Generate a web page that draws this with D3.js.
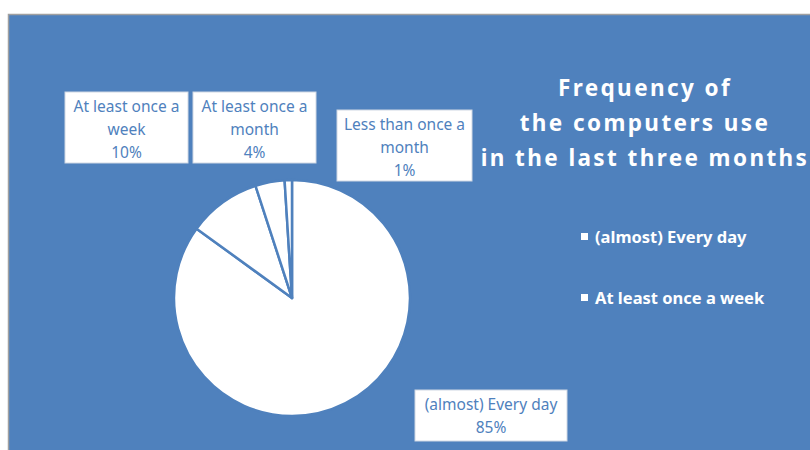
<!DOCTYPE html>
<html lang="en">
<head>
    <meta charset="UTF-8">
    <title>Frequency of the computers use</title>
    <script src="https://d3js.org/d3.v7.min.js"></script>
    <style>
        body { margin: 0; background: #fff; }
        svg { display: block; }
        text { font-family: "Noto Sans", "Open Sans", sans-serif; }
    </style>
</head>
<body>
    <div id="chart"></div>
    <script>
        const width = 810;
        const height = 450;

        // data
        const categories = ["(almost) Every day", "At least once a week", "At least once a month", "Less than once a month"];
        const values = [85, 10, 4, 1];
        const labelLines = [
            ["(almost) Every day"],
            ["At least once a", "week"],
            ["At least once a", "month"],
            ["Less than once a", "month"]
        ];
        const legendItems = ["(almost) Every day", "At least once a week"];
        const titleLines = ["Frequency of", "the computers use", "in the last three months"];

        const blue = "#4f81bd";

        const svg = d3.select("#chart").append("svg")
            .attr("width", width)
            .attr("height", height);

        // chart area
        svg.append("rect")
            .attr("x", 8.5)
            .attr("y", 14.5)
            .attr("width", width)
            .attr("height", height)
            .attr("fill", blue)
            .attr("stroke", "#a0a0a0")
            .attr("stroke-width", 1.5);

        const cx = 292, cy = 298, radius = 118;

        const pie = d3.pie().sort(null).value(d => d);
        const arc = d3.arc().innerRadius(0).outerRadius(radius);
        const arcs = pie(values);

        const g = svg.append("g").attr("transform", `translate(${cx},${cy})`);
        g.selectAll("path")
            .data(arcs)
            .enter().append("path")
            .attr("d", arc)
            .attr("fill", "#fff")
            .attr("stroke", blue)
            .attr("stroke-width", 2.5)
            .attr("stroke-linejoin", "round");

        // data label boxes (x, y, w, h)
        const boxes = [
            [415, 390, 152, 51],
            [65, 92, 123, 71],
            [193, 92, 123, 71],
            [337, 110, 135, 71]
        ];

        const labels = svg.append("g").selectAll("g")
            .data(arcs)
            .enter().append("g")
            .attr("transform", (d, i) => `translate(${boxes[i][0]},${boxes[i][1]})`);

        labels.append("rect")
            .attr("width", (d, i) => boxes[i][2])
            .attr("height", (d, i) => boxes[i][3])
            .attr("fill", "#fff")
            .attr("stroke", "#d0d8e4")
            .attr("stroke-width", 1);

        labels.each(function(d, i) {
            const lines = labelLines[i].concat([values[i] + "%"]);
            const t = d3.select(this).append("text")
                .attr("text-anchor", "middle")
                .attr("fill", blue)
                .attr("font-size", 15.5);
            lines.forEach((s, k) => {
                t.append("tspan")
                    .attr("x", boxes[i][2] / 2)
                    .attr("y", 19.5 + k * 23)
                    .text(s);
            });
        });

        // title
        svg.append("text")
            .attr("text-anchor", "middle")
            .attr("fill", "#fff")
            .attr("font-weight", "bold")
            .attr("font-size", 22.5)
            .attr("letter-spacing", 2.4)
            .selectAll("tspan")
            .data(titleLines)
            .enter().append("tspan")
            .attr("x", 645)
            .attr("y", (d, i) => 96 + i * 35)
            .text(d => d);

        // legend
        const legend = svg.append("g").selectAll("g")
            .data(legendItems)
            .enter().append("g")
            .attr("transform", (d, i) => `translate(581,${237 + i * 61})`);

        legend.append("rect")
            .attr("x", 0)
            .attr("y", -4)
            .attr("width", 7)
            .attr("height", 7)
            .attr("fill", "#fff");

        legend.append("text")
            .attr("x", 14)
            .attr("y", 6)
            .attr("fill", "#fff")
            .attr("font-weight", "bold")
            .attr("font-size", 16.5)
            .text(d => d);
    </script>
</body>
</html>
